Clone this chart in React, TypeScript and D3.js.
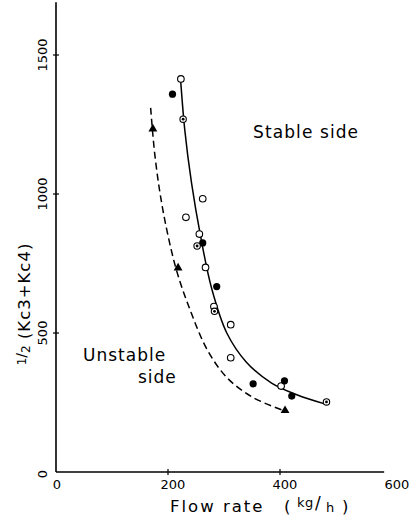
import React from "react";
import * as d3 from "d3";

const xTicks = [0, 200, 400, 600];
const yTicks = [0, 500, 1000, 1500];

// open circles
const openX = [223, 262, 232, 256, 267, 282, 312, 312, 402];
const openY = [1414, 983, 916, 856, 736, 595, 530, 411, 309];
// filled circles
const filledX = [208, 262, 287, 352, 408, 421];
const filledY = [1359, 824, 667, 317, 328, 273];
// dotted circles
const dotX = [227, 252, 283, 483];
const dotY = [1269, 813, 578, 252];
// triangles
const triX = [173, 218, 409];
const triY = [1234, 734, 221];

// solid fitted curve
const solidX = [222, 230, 242, 258, 278, 305, 340, 385, 430, 480];
const solidY = [1425, 1230, 1040, 850, 660, 500, 395, 320, 278, 245];
// dashed fitted curve
const dashX = [169, 176, 186, 199, 216, 240, 270, 305, 350, 405];
const dashY = [1310, 1150, 1000, 860, 720, 580, 440, 340, 270, 222];

const FONT = "'DejaVu Sans', sans-serif";

export default function App() {
  const W = 416, H = 524;
  const x = d3.scaleLinear().domain([0, 600]).range([56, 392]);
  const y = d3.scaleLinear().domain([0, 1500]).range([472, 55]);
  const line = d3
    .line<[number, number]>()
    .x((d) => x(d[0]))
    .y((d) => y(d[1]))
    .curve(d3.curveCatmullRom.alpha(0.5));
  const solid = solidX.map((v, i) => [v, solidY[i]] as [number, number]);
  const dashed = dashX.map((v, i) => [v, dashY[i]] as [number, number]);
  const tri = d3.symbol().type(d3.symbolTriangle).size(34)();

  return (
    <svg
      width={W}
      height={H}
      style={{ position: "absolute", left: 0, top: 0, background: "#fff" }}
      fontFamily={FONT}
    >
      {/* axes */}
      <line x1={x(0)} y1={y(1690)} x2={x(0)} y2={y(0)} stroke="#000" strokeWidth={1.6} />
      <line x1={x(0)} y1={y(0)} x2={x(586)} y2={y(0)} stroke="#000" strokeWidth={1.6} />
      {xTicks.slice(1, 3).map((t) => (
        <line key={"xt" + t} x1={x(t)} x2={x(t)} y1={y(0) - 3} y2={y(0) + 3} stroke="#000" strokeWidth={1.2} />
      ))}
      {yTicks.slice(1).map((t) => (
        <line key={"yt" + t} x1={x(0) - 3} x2={x(0) + 3} y1={y(t)} y2={y(t)} stroke="#000" strokeWidth={1.2} />
      ))}
      {xTicks.map((t) => (
        <text key={"xl" + t} x={x(t) + (t === 0 ? 1 : 5)} y={y(0) + 17} fontSize={13} textAnchor="middle">
          {t}
        </text>
      ))}
      {yTicks.map((t) => (
        <text
          key={"yl" + t}
          transform={`translate(${x(0) - 9},${y(t) + (t === 0 ? 2 : 0)}) rotate(-90)`}
          fontSize={13}
          textAnchor="middle"
        >
          {t}
        </text>
      ))}
      {/* axis titles */}
      <text x={170} y={512} fontSize={16.5} letterSpacing={2}>Flow rate</text>
      <text x={284} y={512} fontSize={16.5}>(</text>
      <text y={512} fontSize={13}>
        <tspan x={297} dy={-5} letterSpacing={0.5}>kg</tspan>
        <tspan x={315} dy={2} fontSize={17}>/</tspan>
        <tspan x={326} dy={3}>h</tspan>
      </text>
      <text x={342} y={512} fontSize={16.5}>)</text>
      <text transform="translate(31,304) rotate(-90)" fontSize={16.5} letterSpacing={1} textAnchor="middle">
        <tspan fontSize={12} dy={-5} letterSpacing={0}>1</tspan>
        <tspan fontSize={14} dy={0} letterSpacing={0}>/</tspan>
        <tspan fontSize={12} dy={4} letterSpacing={0}>2</tspan>
        <tspan dy={0}> (Kc3+Kc4)</tspan>
      </text>
      {/* annotations */}
      <text x={253} y={138} fontSize={17} letterSpacing={1.1}>Stable side</text>
      <text x={83} y={361} fontSize={17} letterSpacing={1}>Unstable</text>
      <text x={138} y={383} fontSize={17} letterSpacing={1}>side</text>
      {/* curves */}
      <path d={line(solid) || ""} fill="none" stroke="#000" strokeWidth={1.5} />
      <path d={line(dashed) || ""} fill="none" stroke="#000" strokeWidth={1.5} strokeDasharray="7 4" />
      {/* markers */}
      {openX.map((v, i) => (
        <circle key={"o" + i} cx={x(v)} cy={y(openY[i])} r={3.3} fill="#fff" stroke="#000" strokeWidth={1.1} />
      ))}
      {filledX.map((v, i) => (
        <circle key={"f" + i} cx={x(v)} cy={y(filledY[i])} r={3.6} fill="#000" />
      ))}
      {dotX.map((v, i) => (
        <g key={"d" + i}>
          <circle cx={x(v)} cy={y(dotY[i])} r={3.2} fill="#fff" stroke="#000" strokeWidth={1.1} />
          <circle cx={x(v)} cy={y(dotY[i])} r={1.4} fill="#000" />
        </g>
      ))}
      {triX.map((v, i) => (
        <path key={"t" + i} d={tri || ""} transform={`translate(${x(v)},${y(triY[i])})`} fill="#000" />
      ))}
    </svg>
  );
}
